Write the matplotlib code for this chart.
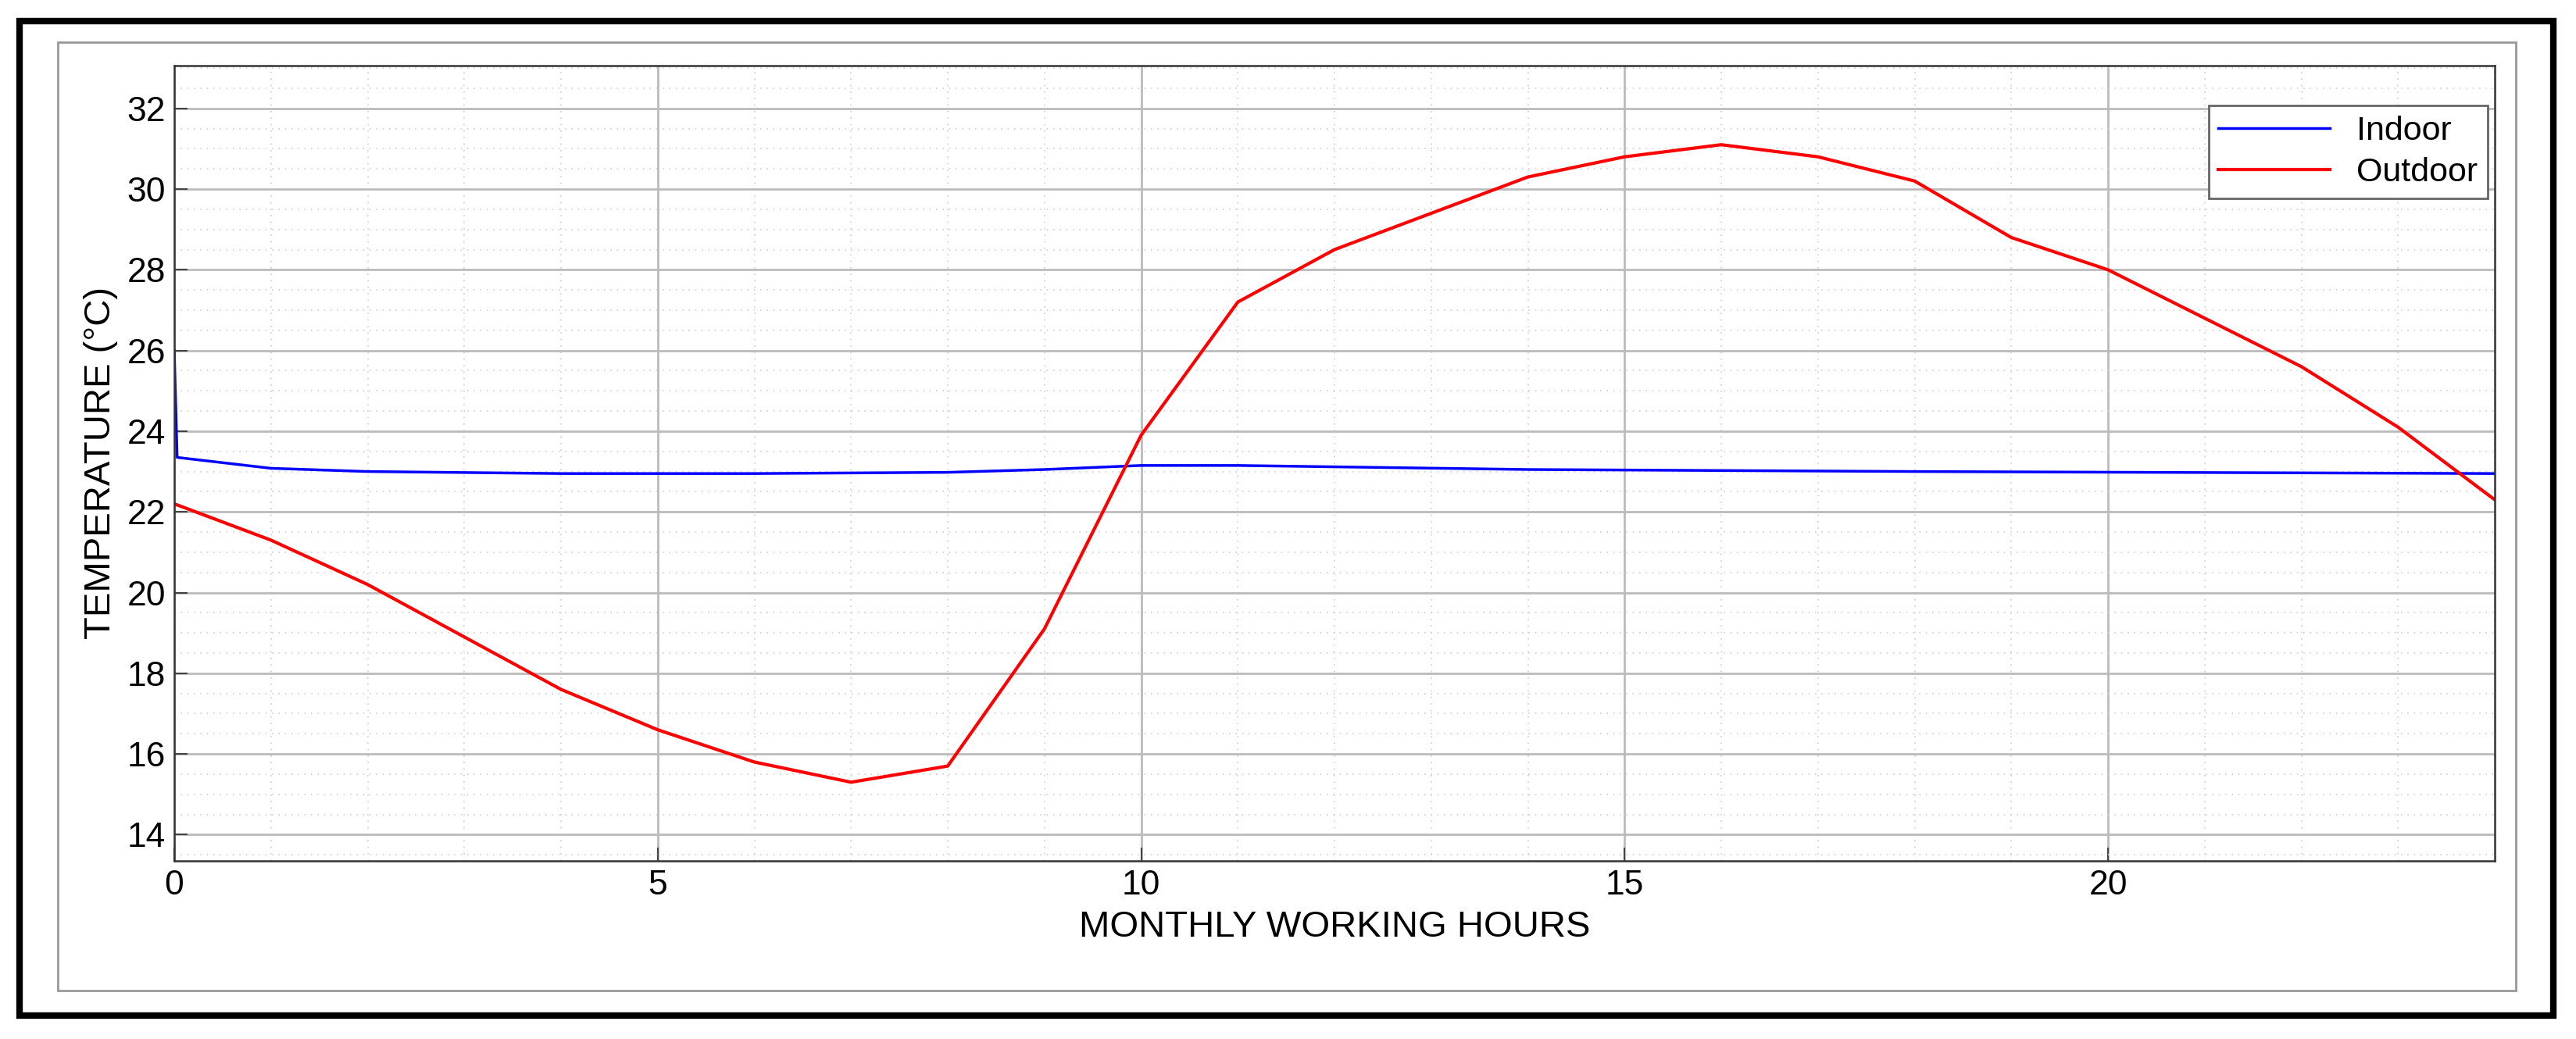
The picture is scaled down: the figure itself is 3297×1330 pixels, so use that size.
import matplotlib
matplotlib.use("Agg")
import matplotlib.pyplot as plt
from matplotlib.patches import Rectangle
from matplotlib.ticker import MultipleLocator

plt.rcParams['font.family'] = ['Liberation Sans', 'DejaVu Sans']

hours_out = list(range(25))
outdoor = [22.2, 21.3, 20.2, 18.9, 17.6, 16.6, 15.8, 15.3, 15.7, 19.1, 23.9, 27.2, 28.5,
           29.4, 30.3, 30.8, 31.1, 30.8, 30.2, 28.8, 28.0, 26.8, 25.6, 24.1, 22.3]
hours_in = [0, 0.03, 1, 2, 4, 6, 8, 9, 10, 11, 14, 18, 24]
indoor = [26.0, 23.35, 23.08, 23.0, 22.95, 22.95, 22.98, 23.05, 23.15, 23.15, 23.05, 23.0, 22.95]

W, H = 3297, 1330
fig = plt.figure(figsize=(W/100, H/100), dpi=100)
fig.patches.append(Rectangle((25/W, 1-1300/H), (3268-25)/W, (1300-27)/H, transform=fig.transFigure,
                             fill=False, edgecolor='black', linewidth=6))
fig.patches.append(Rectangle((74/W, 1-1268/H), (3220-74)/W, (1268-54)/H, transform=fig.transFigure,
                             fill=False, edgecolor='#999999', linewidth=2))

ax = fig.add_axes([223/W, 1-1102/H, (3193-223)/W, (1102-84)/H])
ax.plot(hours_in, indoor, color='blue', lw=2.5, label='Indoor')
ax.plot(hours_out, outdoor, color='red', lw=3, label='Outdoor')
ax.set_xlim(0, 24)
ax.set_ylim(13.35, 33.06)
ax.set_xticks([0, 5, 10, 15, 20])
ax.set_yticks(range(14, 33, 2))
ax.xaxis.set_minor_locator(MultipleLocator(1))
ax.yaxis.set_minor_locator(MultipleLocator(0.5))
ax.grid(which='major', color='#bbbbbb', lw=2, ls='-')
ax.grid(which='minor', color='#d0d0d0', lw=1.2, ls=(0, (1, 4)))
ax.tick_params(which='major', labelsize=32, length=12, width=1.5, direction='in', color='#444444', pad=8)
ax.tick_params(which='minor', length=0)
for s in ax.spines.values():
    s.set_color('#333333'); s.set_linewidth(1.8)
ax.set_xlabel('MONTHLY WORKING HOURS', fontsize=34, labelpad=8)
ax.set_ylabel('TEMPERATURE (°C)', fontsize=34, labelpad=8)
ax.set_axisbelow(True)
leg = ax.legend(loc='upper right', bbox_to_anchor=(3184/W, 1-135/H), bbox_transform=fig.transFigure,
                fontsize=31, fancybox=False, framealpha=1, edgecolor='#666666', handlelength=3.3,
                borderaxespad=0, borderpad=0.3, labelspacing=0.3)
leg.get_frame().set_linewidth(2)
fig.savefig('out.png', dpi=100)
